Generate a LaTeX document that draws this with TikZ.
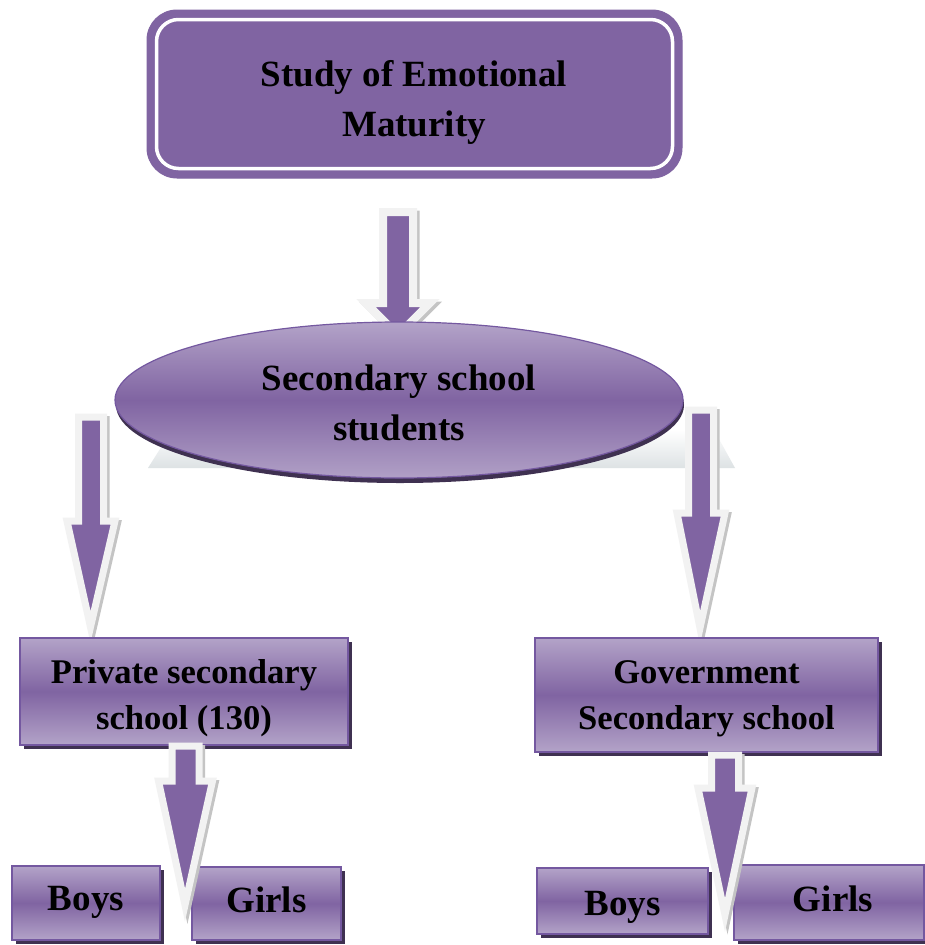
\documentclass[tikz,border=0pt]{standalone}
\usepackage{fontspec}
\setmainfont{Liberation Serif}
\usetikzlibrary{calc,shapes.geometric,shadows}
\definecolor{pmid}{HTML}{8064A2}
\definecolor{plight}{HTML}{B3A3C8}
\definecolor{pline}{HTML}{7458A0}
\definecolor{pshadow}{HTML}{3F3151}
\definecolor{aline}{HTML}{F2F2F2}
\definecolor{ashade}{HTML}{C4C4C4}
\definecolor{refl}{HTML}{DDE2E4}
\tikzset{
  gbox/.style={draw=pline, line width=1.5pt, top color=plight, bottom color=plight, middle color=pmid,
    drop shadow={shadow xshift=4pt, shadow yshift=-4pt, fill=pshadow, opacity=1},
    align=center, inner sep=0pt, text=black},
  midtext/.style={font=\bfseries\fontsize{34.6}{46}\selectfont, align=center, inner sep=0pt},
  bigtext/.style={font=\bfseries\fontsize{37}{50}\selectfont, align=center, inner sep=0pt},
  leaftext/.style={font=\bfseries\fontsize{37}{50}\selectfont, text height=25pt},
  arrowbody/.style={fill=pmid, draw=aline, line join=miter},
  arrowshade/.style={fill=ashade, draw=ashade, line join=miter},
}
\newcommand\blockarrow[6]{%
  \draw[arrowshade, line width=#6, transform canvas={shift={(2.5,2.5)}}]
    ($(#1)+(-#3,0)$) -- ($(#1)+(#3,0)$) -- ($(#1)+(#3,#5)$) -- ($(#1)+(#4,#5)$) -- (#2)
    -- ($(#1)+(-#4,#5)$) -- ($(#1)+(-#3,#5)$) -- cycle;
  \draw[arrowbody, line width=#6]
    ($(#1)+(-#3,0)$) -- ($(#1)+(#3,0)$) -- ($(#1)+(#3,#5)$) -- ($(#1)+(#4,#5)$) -- (#2)
    -- ($(#1)+(-#4,#5)$) -- ($(#1)+(-#3,#5)$) -- cycle;
}
\begin{document}
\begin{tikzpicture}[x=1pt,y=-1pt]
\useasboundingbox (0,0) rectangle (924,945);
\fill[white] (0,0) rectangle (924,945);

% reflection behind ellipse
\shade[top color=white, bottom color=refl] (148,468) -- (172,430) -- (714,430) -- (735,468) -- cycle;

% top box
\node[draw=pmid, fill=pmid, line width=1pt, rounded corners=30pt, minimum width=535pt, minimum height=168pt,
      inner sep=0pt] (top) at (414.5,94) {};
\draw[white, line width=3.5pt, rounded corners=22pt] ($(top.north west)+(10,10)$) rectangle ($(top.south east)+(-10,-10)$);
\node[bigtext] (toptext) at (414,102) {Study of Emotional\\Maturity};

% arrow top -> ellipse
\coordinate (a1s) at (398,212);
\coordinate (a1t) at (398,335);
\blockarrow{a1s}{a1t}{15}{32}{91}{8pt}

% ellipse
\node[ellipse, draw=pline, line width=1.2pt, top color=plight, bottom color=plight!95!pmid, middle color=pmid,
      drop shadow={shadow xshift=1pt, shadow yshift=-5pt, fill=pshadow, opacity=1},
      minimum width=568pt, minimum height=156pt, inner sep=0pt] (ell) at (399,400) {};
\node[bigtext] (elltext) at (399,402.5) {Secondary school\\students};

% arrows ellipse -> boxes
\coordinate (a2s) at (91,417);
\coordinate (a2t) at (90.5,627);
\blockarrow{a2s}{a2t}{12.5}{24}{104}{7pt}
\coordinate (a3s) at (701,410);
\coordinate (a3t) at (700,628);
\blockarrow{a3s}{a3t}{12.5}{24}{103}{7pt}

% second level boxes
\node[gbox, minimum width=328pt, minimum height=107pt] (priv) at (184,691.5) {};
\node[midtext] (privtext) at (184,698) {Private secondary\\school (130)};
\node[gbox, minimum width=343pt, minimum height=114pt] (gov) at (706.5,695) {};
\node[midtext] (govtext) at (706.5,698.5) {Government\\Secondary school};

% leaf boxes
\node[gbox, leaftext, text depth=9.6pt, minimum width=148pt, minimum height=74pt] (boysL) at (86,903) {Boys};
\node[gbox, leaftext, text depth=7.6pt, minimum width=149pt, minimum height=73pt] (girlsL) at (266.5,903.5) {Girls};
\node[gbox, leaftext, text height=28pt, text depth=0pt, minimum width=171pt, minimum height=66pt] (boysR) at (622.5,901) {Boys};
\node[gbox, leaftext, text depth=6.6pt, minimum width=190pt, minimum height=75pt] (girlsR) at (829,902.5) {\hspace*{8pt}Girls};

% arrows to leaves
\coordinate (a4s) at (185.5,746);
\coordinate (a4t) at (185,905);
\blockarrow{a4s}{a4t}{13.5}{27}{35}{7pt}
\coordinate (a5s) at (725,755);
\coordinate (a5t) at (725,915);
\blockarrow{a5s}{a5t}{13.5}{27}{33}{7pt}
\end{tikzpicture}
\end{document}
